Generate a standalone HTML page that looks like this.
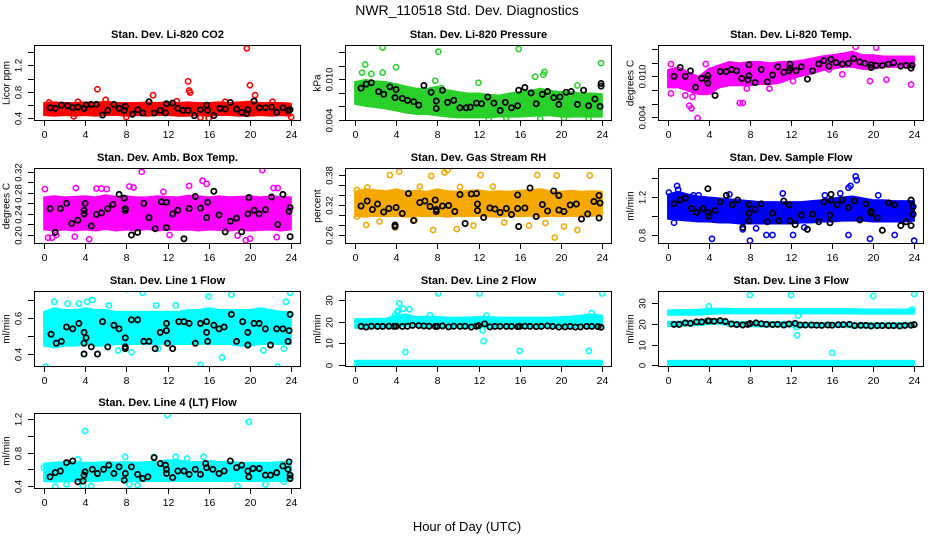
<!DOCTYPE html>
<html><head><meta charset="utf-8">
<style>
html,body{margin:0;padding:0;background:#fff;}
svg{display:block;font-family:"Liberation Sans",Arial,sans-serif;}
</style></head>
<body>
<svg id="chart" width="936" height="540" viewBox="0 0 936 540">
<rect x="0" y="0" width="936" height="540" fill="#fff"/>
<text x="467" y="15" text-anchor="middle" font-size="14">NWR_110518  Std. Dev. Diagnostics</text>
<text x="467" y="531" text-anchor="middle" font-size="13">Hour of Day (UTC)</text>
</svg>
<script>
// ---------- data ----------
const xTicks = [0,4,8,12,16,20,24];
const bandHours = [0,1,2,3,4,5,6,7,8,9,10,11,12,13,14,15,16,17,18,19,20,21,22,23,24];

const co2Lo = [0.46,0.45,0.46,0.45,0.46,0.45,0.46,0.46,0.45,0.46,0.45,0.46,0.46,0.45,0.45,0.46,0.45,0.46,0.46,0.45,0.45,0.46,0.45,0.46,0.45];
const co2Hi = [0.62,0.63,0.62,0.62,0.63,0.62,0.64,0.62,0.62,0.62,0.63,0.62,0.63,0.62,0.63,0.62,0.62,0.63,0.62,0.63,0.64,0.62,0.62,0.62,0.61];
const co2Out = [[5.2,0.84],[14,0.96],[14.1,0.82],[14.2,0.79],[19.7,1.46],[20,0.9],[10.6,0.75],[20.5,0.75],[16,0.4],[24,0.42],[0.5,0.64],[6,0.68],[3.3,0.65],[8,0.42],[2.9,0.43],[15.2,0.41],[22.2,0.65],[17.6,0.65],[12.9,0.66]];
const co2Black = [[0.6,0.56],[1.1,0.55],[1.7,0.6],[2.3,0.59],[2.8,0.56],[3.3,0.57],[3.9,0.55],[4.1,0.6],[4.6,0.61],[5.1,0.61],[5.7,0.45],[6.2,0.52],[6.8,0.61],[7.3,0.55],[7.8,0.52],[7.9,0.58],[8.6,0.46],[9.1,0.53],[9.6,0.48],[10.2,0.65],[10.7,0.48],[11.3,0.52],[11.8,0.48],[11.9,0.62],[12.5,0.63],[13,0.55],[13.5,0.52],[14,0.52],[14.6,0.44],[15.2,0.53],[15.8,0.6],[15.9,0.52],[16.5,0.44],[17.1,0.55],[17.6,0.54],[18.1,0.64],[18.7,0.54],[19.2,0.49],[19.7,0.47],[19.8,0.53],[20.4,0.66],[20.9,0.56],[21.5,0.56],[22.1,0.57],[22.6,0.49],[23.2,0.56],[23.7,0.52],[23.9,0.53]];

const presLo = [0.0065,0.0062,0.006,0.0058,0.0055,0.0052,0.005,0.005,0.0048,0.0046,0.0045,0.0045,0.0045,0.0045,0.0046,0.0046,0.0046,0.0047,0.0048,0.0048,0.0046,0.0046,0.0046,0.0046,0.0046];
const presHi = [0.0095,0.0098,0.0096,0.0095,0.0092,0.0088,0.0085,0.0085,0.0088,0.0083,0.008,0.0078,0.0078,0.0076,0.0075,0.0078,0.008,0.0082,0.0085,0.0082,0.008,0.008,0.0078,0.0078,0.0077];
const presOut = [[2.7,0.0147],[8.1,0.0141],[15.9,0.0145],[23.9,0.0124],[1,0.0122],[4,0.0118],[1.6,0.0108],[0.7,0.011],[2.7,0.011],[17.5,0.0104],[18.3,0.0107],[13,0.0041],[22.7,0.0041],[18,0.0042],[7.8,0.0098],[8.4,0.0087],[12,0.0095],[14.7,0.0043],[18.4,0.0111],[21.6,0.0091],[20.3,0.0043]];
const presBlack = [[0.6,0.0087],[1.1,0.0093],[1.6,0.0095],[2.3,0.0082],[2.8,0.0078],[3.4,0.0089],[3.9,0.0073],[4,0.0085],[4.6,0.0072],[5.1,0.0069],[5.7,0.0067],[6.2,0.0062],[6.7,0.0091],[7.4,0.0081],[7.9,0.0068],[7.9,0.0057],[8.5,0.0084],[9,0.0066],[9.6,0.0069],[10.2,0.0058],[10.8,0.0058],[11.2,0.0059],[11.8,0.0065],[12.3,0.0064],[12.9,0.0074],[13.5,0.0065],[14.1,0.0054],[14.6,0.0066],[15.2,0.0058],[15.8,0.0061],[15.9,0.0084],[16.5,0.0088],[17.1,0.008],[17.6,0.0064],[18.2,0.0078],[18.7,0.0082],[19.3,0.0073],[19.8,0.0063],[19.9,0.0074],[20.5,0.0081],[21,0.0082],[21.6,0.0063],[22.2,0.0084],[22.7,0.0061],[23.3,0.0071],[23.8,0.006],[23.9,0.009],[23.9,0.0094]];

const ltLo = [0.0085,0.0085,0.008,0.0075,0.0075,0.0085,0.0088,0.0088,0.0088,0.009,0.009,0.0092,0.0098,0.0102,0.0105,0.011,0.0112,0.0115,0.0115,0.0112,0.0112,0.0115,0.0115,0.0115,0.0115];
const ltHi = [0.0108,0.0112,0.0105,0.0098,0.011,0.0115,0.012,0.0118,0.012,0.012,0.0118,0.012,0.012,0.0122,0.0125,0.0128,0.013,0.0132,0.0135,0.013,0.013,0.0128,0.0128,0.0128,0.0128];
const ltOut = [[2.9,0.0039],[2.3,0.0053],[2.1,0.0057],[7,0.0061],[7.3,0.0061],[0.3,0.0075],[19.7,0.0093],[21.3,0.0095],[23.7,0.0088],[12.2,0.0093],[0.3,0.0118],[17,0.0103],[3.7,0.0118],[7.7,0.0082],[9.9,0.0082],[15.7,0.011],[1.7,0.0072],[2.4,0.007],[4.1,0.0078],[18.3,0.0143],[20.3,0.0142]];
const ltBlack = [[0.6,0.01],[1.2,0.0113],[1.7,0.01],[2.2,0.0108],[2.7,0.0084],[3.3,0.0097],[3.8,0.0096],[3.9,0.009],[3.9,0.0101],[4.6,0.0072],[5.1,0.0107],[5.7,0.0107],[6.2,0.011],[6.7,0.0108],[7.2,0.0097],[7.8,0.0095],[7.9,0.0101],[7.9,0.0117],[8.5,0.0091],[9.1,0.011],[9.7,0.0092],[10.2,0.0102],[10.7,0.0114],[11.3,0.0106],[11.8,0.0108],[11.9,0.0118],[11.9,0.0112],[12.5,0.0108],[13,0.0114],[13.6,0.0096],[14.1,0.0108],[14.7,0.0118],[15.2,0.0123],[15.7,0.0115],[15.9,0.0125],[16.4,0.012],[17,0.0118],[17.6,0.0119],[18.1,0.0126],[18.7,0.0121],[19.2,0.0119],[19.8,0.0117],[19.8,0.0113],[20.3,0.0116],[20.9,0.0116],[21.5,0.0118],[22,0.012],[22.7,0.0115],[23.2,0.0116],[23.7,0.0112],[23.8,0.0116]];

const boxLo = [0.212,0.21,0.212,0.21,0.212,0.21,0.213,0.21,0.212,0.21,0.213,0.21,0.212,0.211,0.212,0.21,0.212,0.211,0.21,0.212,0.21,0.211,0.212,0.21,0.212];
const boxHi = [0.27,0.272,0.27,0.271,0.272,0.27,0.274,0.271,0.272,0.27,0.27,0.272,0.271,0.27,0.273,0.272,0.27,0.272,0.27,0.271,0.272,0.27,0.272,0.271,0.27];
const boxOut = [[0.1,0.287],[3.1,0.289],[5.1,0.288],[5.6,0.288],[6.1,0.287],[8.3,0.292],[9.5,0.32],[14.1,0.293],[15.4,0.303],[21.2,0.323],[22.3,0.289],[22.7,0.289],[0.4,0.195],[0.8,0.195],[4.4,0.192],[18.8,0.199],[19.6,0.19],[20,0.193],[22.6,0.196],[3,0.197],[1.2,0.2],[12.2,0.2],[15.8,0.297],[11.6,0.282],[8.7,0.29]];
const boxBlack = [[0.6,0.25],[1.1,0.205],[1.6,0.25],[2.2,0.26],[2.7,0.222],[3.3,0.228],[3.9,0.247],[3.9,0.24],[4,0.26],[4.6,0.217],[5.1,0.239],[5.6,0.242],[6.2,0.25],[6.7,0.258],[7.3,0.277],[7.8,0.27],[7.9,0.246],[7.9,0.25],[8.5,0.2],[9.1,0.205],[9.7,0.26],[10.2,0.233],[10.8,0.212],[11.4,0.263],[11.9,0.214],[11.9,0.262],[12.5,0.24],[13,0.247],[13.6,0.193],[14.1,0.25],[14.7,0.273],[15.2,0.251],[15.8,0.233],[15.9,0.262],[16.5,0.283],[17,0.238],[17.6,0.206],[18.1,0.226],[18.7,0.232],[19.2,0.206],[19.8,0.24],[19.9,0.271],[20.4,0.247],[20.9,0.24],[21.5,0.248],[22.1,0.272],[22.7,0.22],[23.2,0.277],[23.8,0.245],[23.9,0.252],[23.9,0.197]];

const rhLo = [0.3,0.298,0.3,0.299,0.3,0.298,0.3,0.299,0.3,0.298,0.3,0.299,0.3,0.299,0.298,0.3,0.299,0.3,0.298,0.3,0.299,0.3,0.298,0.3,0.3];
const rhHi = [0.345,0.35,0.348,0.346,0.35,0.345,0.347,0.345,0.35,0.346,0.345,0.347,0.348,0.345,0.346,0.345,0.347,0.348,0.35,0.346,0.345,0.347,0.345,0.346,0.345];
const rhOut = [[0.2,0.35],[1.2,0.355],[3.4,0.38],[4.3,0.387],[8.7,0.385],[7.4,0.378],[9,0.39],[10.2,0.356],[12.2,0.38],[17.7,0.38],[19.6,0.379],[22.8,0.379],[1.1,0.28],[3.9,0.275],[7.6,0.27],[9.9,0.272],[11.5,0.279],[16.9,0.279],[19.4,0.255],[20.3,0.277],[21.6,0.27],[0.2,0.297],[2.4,0.287],[5.8,0.29],[14.5,0.285],[18.5,0.284],[6.3,0.357],[13.4,0.357]];
const rhBlack = [[0.6,0.318],[1.2,0.328],[1.7,0.311],[2.2,0.322],[2.8,0.306],[3.3,0.313],[3.9,0.28],[3.9,0.277],[4,0.315],[4.6,0.303],[5.2,0.343],[5.7,0.289],[6.3,0.325],[6.8,0.328],[7.3,0.317],[7.8,0.33],[7.9,0.307],[7.9,0.311],[8.5,0.318],[9.1,0.319],[9.7,0.307],[10.2,0.341],[10.7,0.283],[11.3,0.342],[11.8,0.343],[11.9,0.322],[11.9,0.309],[12.5,0.295],[13.1,0.314],[13.6,0.312],[14.1,0.305],[14.7,0.313],[15.2,0.301],[15.8,0.34],[15.8,0.313],[15.9,0.277],[16.5,0.314],[17,0.354],[17.6,0.297],[18.2,0.321],[18.7,0.308],[19.3,0.348],[19.8,0.339],[19.8,0.31],[20.3,0.307],[20.9,0.32],[21.5,0.322],[22,0.292],[22.6,0.302],[23.2,0.327],[23.7,0.339],[23.7,0.294],[23.8,0.324]];

const sfLo = [0.98,0.97,0.96,0.95,0.95,0.94,0.94,0.93,0.93,0.93,0.93,0.93,0.93,0.94,0.94,0.95,0.95,0.96,0.96,0.96,0.95,0.95,0.95,0.95,0.96];
const sfHi = [1.22,1.25,1.22,1.2,1.19,1.18,1.17,1.16,1.15,1.14,1.14,1.14,1.14,1.14,1.15,1.16,1.18,1.19,1.2,1.18,1.16,1.16,1.15,1.15,1.15];
const sfOut = [[0.9,1.32],[1,1.28],[18.3,1.42],[18.4,1.38],[17.8,1.32],[17.6,1.3],[11.2,1.24],[6,1.23],[2.5,1.22],[4.3,0.76],[8,0.74],[12.2,0.8],[17.6,0.8],[19.7,0.76],[24,0.74],[22.1,0.8],[0.6,0.93],[7.3,0.86],[9.6,0.8],[10.2,0.8],[20.5,1.22],[15.3,1.22],[16.8,1.24],[3,1.22],[0.1,1.25],[8.6,0.87],[13.3,0.88]];
const sfBlack = [[0.6,1.13],[1.2,1.17],[1.7,1.19],[2.3,1.08],[2.8,1.04],[3.4,1.08],[3.9,1.04],[3.9,1.29],[4,1],[4.6,1.06],[5.1,1.15],[5.7,1.22],[6.3,1.12],[6.8,1.17],[7.3,0.88],[7.9,0.95],[7.9,1.03],[7.9,1.12],[8.5,1.07],[9.1,1.13],[9.7,0.94],[10.2,1.03],[10.8,0.95],[11.3,1.16],[11.8,1.12],[11.9,0.95],[12.4,0.91],[13,1.01],[13.6,0.86],[14.1,1.02],[14.7,0.94],[15.2,1.15],[15.8,0.93],[15.8,1.01],[15.9,1.17],[15.9,1.23],[16.5,1.12],[17,1.17],[17.6,1.09],[18.2,1.16],[18.7,0.96],[19.3,1.13],[19.8,1.05],[19.8,1.03],[20.4,0.98],[20.9,0.85],[21.5,1.14],[22.1,1.12],[22.7,0.9],[23.2,0.94],[23.7,0.9],[23.7,1.17],[23.9,1.1],[23.9,1.02]];

const l1Lo = [0.45,0.44,0.45,0.45,0.46,0.45,0.45,0.46,0.46,0.46,0.46,0.46,0.46,0.46,0.46,0.46,0.46,0.46,0.46,0.45,0.45,0.46,0.46,0.46,0.46];
const l1Hi = [0.63,0.65,0.64,0.64,0.65,0.64,0.64,0.63,0.63,0.63,0.63,0.63,0.63,0.63,0.64,0.64,0.65,0.64,0.64,0.64,0.64,0.65,0.64,0.63,0.63];
const l1Out = [[0.2,0.33],[1,0.69],[2.3,0.68],[3.4,0.68],[4.2,0.69],[4.7,0.7],[8,0.76],[9.6,0.74],[12.8,0.67],[16,0.72],[18.2,0.73],[23.9,0.74],[23.5,0.69],[22.7,0.33],[20,0.31],[15.2,0.34],[17.3,0.38],[7.2,0.42],[11.1,0.43],[3.9,0.4],[8.5,0.41],[0.8,0.58],[23.3,0.43],[21.3,0.42],[6.3,0.67],[10.9,0.67]];
const l1Black = [[0.7,0.51],[1.2,0.46],[1.7,0.47],[2.2,0.55],[2.8,0.54],[3.4,0.57],[3.9,0.46],[3.9,0.52],[3.9,0.4],[4.1,0.49],[4.6,0.44],[5.2,0.4],[5.7,0.58],[6.2,0.44],[6.8,0.56],[7.3,0.54],[7.9,0.49],[7.9,0.43],[7.9,0.44],[8.5,0.59],[9.1,0.59],[9.7,0.47],[10.2,0.47],[10.8,0.43],[11.3,0.52],[11.9,0.53],[11.9,0.57],[12,0.46],[12.5,0.43],[13.1,0.58],[13.6,0.58],[14.1,0.57],[14.7,0.46],[15.2,0.57],[15.8,0.58],[15.8,0.52],[15.9,0.47],[16.5,0.56],[17,0.54],[17.5,0.55],[18.2,0.62],[18.7,0.47],[19.3,0.58],[19.8,0.52],[19.8,0.45],[20.4,0.57],[20.9,0.57],[21.5,0.54],[22,0.45],[22.6,0.54],[23.2,0.54],[23.7,0.47],[23.8,0.53],[23.9,0.62]];

const l2UpLo = [17.5,17.5,17.6,17.6,18,18.5,18,17.8,17.8,17.8,17.8,17.8,17.8,17.8,17.8,17.8,17.8,17.8,17.8,17.8,17.8,17.8,17.8,17.8,17.8];
const l2UpHi = [20.8,20.8,21,21,22.5,23,21.8,22,21.8,21.5,21.5,21.5,21.8,21.8,21.5,21.5,21.5,21.5,21.5,21.5,21.8,22,22.5,23,22.5];
const l2LowLo = [0.4,0.4,0.4,0.4,0.4,0.4,0.4,0.4,0.4,0.4,0.4,0.4,0.4,0.4,0.4,0.4,0.4,0.4,0.4,0.4,0.4,0.4,0.4,0.4,0.4];
const l2LowHi = [1.6,1.6,1.6,1.6,1.6,1.6,1.6,1.6,1.6,1.6,1.6,1.6,1.6,1.6,1.6,1.6,1.6,1.6,1.6,1.6,1.6,1.6,1.6,1.6,1.6];
const l2Out = [[4.3,28.5],[4.1,24.5],[4.2,25],[4.7,26],[5.3,25.7],[4.9,6],[8.1,33],[12.1,33],[12.4,16],[12.5,11],[16,6.5],[20,33.5],[22.7,6.5],[24,33],[23,24],[7.3,23],[12.8,22.7],[3.9,23]];
const l2Black = [[0.6,17.8],[1.1,17.5],[1.6,17.9],[2.2,17.8],[2.7,17.8],[3.3,17.9],[3.8,17.8],[4,17.9],[4.6,17.8],[5.1,17.9],[5.6,18.3],[6.2,18.2],[6.7,18],[7.2,17.9],[7.8,17.8],[8,17.8],[8.5,18],[9.1,17.6],[9.6,17.9],[10.2,17.8],[10.7,17.9],[11.3,17.5],[11.8,17.9],[12,18.2],[12.6,19],[13.1,17.6],[13.6,17.8],[14.1,17.8],[14.7,17.8],[15.2,17.8],[15.8,17.7],[16,17.8],[16.5,17.9],[17,17.8],[17.6,17.7],[18.1,17.8],[18.7,18],[19.2,17.8],[19.8,17.5],[20.4,17.6],[20.9,17.8],[21.4,17.5],[21.9,17.6],[22.5,17.8],[23,17.8],[23.6,17.7],[23.9,17.4]];

const l3UpLo = [24.8,24.8,24.8,24.8,25.2,25.5,25.5,25.5,25.5,25.5,25.5,25.5,25.5,25.5,25.5,25.5,25.5,25.5,25.5,25.3,25.3,25.3,25.3,25.3,25.3];
const l3UpHi = [26.2,26.3,26.3,26.5,27,27,27,26.8,26.8,26.8,26.8,26.8,26.8,26.8,26.8,26.8,26.8,26.8,26.8,26.6,26.6,26.6,26.6,26.6,26.8];
const l3MidLo = [19.3,19.3,19.6,19.8,20.3,20.5,19.5,19.1,19.3,19.1,19.1,19.1,19.1,18.9,18.9,18.9,18.9,18.9,18.7,18.7,18.7,18.7,18.7,18.8,18.9];
const l3MidHi = [20.7,20.7,21.2,21.5,22,21.9,20.9,20.5,20.7,20.5,20.5,20.5,20.7,20.2,20.2,20.2,20.2,20.2,20,20,20,20,20,20.1,20.3];
const l3LowLo = [0.4,0.4,0.4,0.4,0.4,0.4,0.4,0.4,0.4,0.4,0.4,0.4,0.4,0.4,0.4,0.4,0.4,0.4,0.4,0.4,0.4,0.4,0.4,0.4,0.4];
const l3LowHi = [1.8,1.8,1.8,1.8,1.8,1.8,1.8,1.8,1.8,1.8,1.8,1.8,1.8,1.8,1.8,1.8,1.8,1.8,1.8,1.8,1.8,1.8,1.8,1.8,1.8];
const l3Out = [[4,28.5],[8,34],[12,34],[20,33.5],[24,34.5],[12.6,14.5],[12.5,18.5],[12.7,24],[16,6],[23.8,27]];
const l3Black = [[0.6,19.8],[1.1,19.8],[1.7,20.5],[2.2,20.3],[2.8,21],[3.3,21],[3.9,21.5],[4,21.5],[4.5,21.3],[5.1,21.6],[5.6,21.2],[6.2,20],[6.7,19.7],[7.3,19.5],[7.8,19.8],[8,20.2],[8.6,20.5],[9.1,20.1],[9.6,19.8],[10.2,19.7],[10.7,19.8],[11.3,19.5],[11.8,20],[12.4,20.3],[12.9,19.5],[13.4,19.5],[14,19.5],[14.5,19.4],[15,19.3],[15.6,19.5],[16,19.4],[16.6,19.6],[17.1,19.7],[17.7,19.8],[18.2,19.2],[18.8,19.3],[19.3,19.3],[19.8,19],[20.4,19.2],[20.9,19.2],[21.5,19.2],[22,19.2],[22.6,19],[23.1,19.3],[23.7,19.4],[24,19.7]];

const l4Lo = [0.47,0.46,0.47,0.47,0.47,0.47,0.48,0.48,0.47,0.47,0.47,0.47,0.47,0.47,0.47,0.47,0.47,0.47,0.47,0.47,0.47,0.47,0.47,0.47,0.47];
const l4Hi = [0.66,0.67,0.68,0.68,0.67,0.67,0.68,0.67,0.68,0.67,0.68,0.68,0.7,0.7,0.68,0.68,0.69,0.68,0.68,0.67,0.67,0.67,0.67,0.68,0.68];
const l4Out = [[4,1.06],[12,1.25],[19.9,1.17],[1.1,0.39],[2.2,0.42],[3.8,0.4],[4.6,0.4],[9.1,0.41],[18.8,0.4],[21.5,0.42],[23.3,0.45],[10.7,0.75],[12.8,0.75],[15.5,0.75],[7.9,0.75],[3.3,0.72],[0,0.62],[8.3,0.42],[13.9,0.73]];
const l4Black = [[0.6,0.51],[1.1,0.56],[1.6,0.58],[2.2,0.68],[2.8,0.7],[3.3,0.45],[3.8,0.46],[3.9,0.53],[4,0.57],[4.7,0.6],[5.2,0.55],[5.8,0.6],[6.3,0.65],[6.8,0.55],[7.3,0.63],[7.8,0.47],[7.9,0.55],[8.5,0.63],[9.1,0.54],[9.6,0.49],[10.1,0.51],[10.7,0.74],[11.3,0.67],[11.8,0.65],[11.9,0.6],[11.9,0.55],[12.5,0.5],[13,0.58],[13.6,0.58],[14.1,0.54],[14.7,0.6],[15.2,0.54],[15.7,0.67],[15.8,0.62],[16.4,0.6],[17,0.55],[17.5,0.58],[18.1,0.7],[18.7,0.62],[19.2,0.65],[19.8,0.58],[19.9,0.51],[20.3,0.61],[20.9,0.61],[21.5,0.53],[22,0.53],[22.6,0.56],[23.2,0.64],[23.7,0.6],[23.8,0.69],[23.9,0.49],[23.9,0.53]];

const co2Ticks=[0.4,0.6,0.8,1.0,1.2,1.4], co2Labels=["0.4","","0.8","","1.2",""];
const presTicks=[0.004,0.006,0.008,0.010,0.012,0.014], presLabels=["0.004","","","0.010","",""];
const ltTicks=[0.004,0.006,0.008,0.010,0.012,0.014], ltLabels=["0.004","","","0.010","",""];
const boxTicks=[0.20,0.22,0.24,0.26,0.28,0.30,0.32], boxLabels=["0.20","","0.24","","0.28","","0.32"];
const rhTicks=[0.26,0.28,0.30,0.32,0.34,0.36,0.38], rhLabels=["0.26","","","0.32","","","0.38"];
const sfTicks=[0.8,1.0,1.2,1.4], sfLabels=["0.8","","1.2",""];
const l1Ticks=[0.4,0.5,0.6,0.7], l1Labels=["0.4","","0.6",""];
const l2Ticks=[0,10,20,30], l2Labels=["0","10","20","30"];
const l3Ticks=[0,10,20,30], l3Labels=["0","10","20","30"];
const l4Ticks=[0.4,0.6,0.8,1.0,1.2], l4Labels=["0.4","","0.8","","1.2"];

// ---------- layout ----------
const NS='http://www.w3.org/2000/svg';
const svg=document.getElementById('chart');
const panels=[
 {name:'co2',title:'Stan. Dev. Li-820 CO2',ylab:'Licor ppm',L:34,T:45,W:267,ylim:[0.359,1.51],ticks:co2Ticks,labels:co2Labels,col:'#ff0000',bands:[[co2Lo,co2Hi]],out:co2Out,blk:co2Black},
 {name:'pressure',title:'Stan. Dev. Li-820 Pressure',ylab:'kPa',L:345,T:45,W:267,ylim:[0.00385,0.01508],ticks:presTicks,labels:presLabels,col:'#2ad02a',bands:[[presLo,presHi]],out:presOut,blk:presBlack},
 {name:'licor-temp',title:'Stan. Dev. Li-820 Temp.',ylab:'degrees C',L:658,T:45,W:266,ylim:[0.00346,0.01459],ticks:ltTicks,labels:ltLabels,col:'#ff00ff',bands:[[ltLo,ltHi]],out:ltOut,blk:ltBlack},
 {name:'amb-box-temp',title:'Stan. Dev. Amb. Box Temp.',ylab:'degrees C',L:34,T:168,W:267,ylim:[0.183,0.327],ticks:boxTicks,labels:boxLabels,col:'#ff00ff',bands:[[boxLo,boxHi]],out:boxOut,blk:boxBlack},
 {name:'gas-stream-rh',title:'Stan. Dev. Gas Stream RH',ylab:'percent',L:345,T:168,W:267,ylim:[0.242,0.394],ticks:rhTicks,labels:rhLabels,col:'#f5a800',bands:[[rhLo,rhHi]],out:rhOut,blk:rhBlack},
 {name:'sample-flow',title:'Stan. Dev. Sample Flow',ylab:'ml/min',L:658,T:168,W:266,ylim:[0.705,1.509],ticks:sfTicks,labels:sfLabels,col:'#0000ff',bands:[[sfLo,sfHi]],out:sfOut,blk:sfBlack},
 {name:'line1-flow',title:'Stan. Dev. Line 1 Flow',ylab:'ml/min',L:34,T:291,W:267,ylim:[0.328,0.75],ticks:l1Ticks,labels:l1Labels,col:'#00ffff',bands:[[l1Lo,l1Hi]],out:l1Out,blk:l1Black},
 {name:'line2-flow',title:'Stan. Dev. Line 2 Flow',ylab:'ml/min',L:345,T:291,W:267,ylim:[-0.92,34.15],ticks:l2Ticks,labels:l2Labels,col:'#00ffff',bands:[[l2UpLo,l2UpHi],[l2LowLo,l2LowHi]],out:l2Out,blk:l2Black},
 {name:'line3-flow',title:'Stan. Dev. Line 3 Flow',ylab:'ml/min',L:658,T:291,W:266,ylim:[-0.82,35.95],ticks:l3Ticks,labels:l3Labels,col:'#00ffff',bands:[[l3UpLo,l3UpHi],[l3MidLo,l3MidHi],[l3LowLo,l3LowHi]],out:l3Out,blk:l3Black},
 {name:'line4-flow',title:'Stan. Dev. Line 4 (LT) Flow',ylab:'ml/min',L:34,T:413,W:267,ylim:[0.364,1.276],ticks:l4Ticks,labels:l4Labels,col:'#00ffff',bands:[[l4Lo,l4Hi]],out:l4Out,blk:l4Black}
];
const H=76;
function mk(tag,attrs,parent){const e=document.createElementNS(NS,tag);for(const k in attrs)e.setAttribute(k,attrs[k]);(parent||svg).appendChild(e);return e;}

panels.forEach(p=>{
  const g=mk('g',{});
  
  
  const x0=p.L+p.W*0.037, x1=p.L+p.W*(1-0.037);
  const xs=h=>x0+(x1-x0)*h/24;
  const ys=v=>p.T+H-(v-p.ylim[0])/(p.ylim[1]-p.ylim[0])*H;
  const clip='clip-'+p.name;
  const cp=mk('clipPath',{id:clip},g);mk('rect',{x:p.L,y:p.T,width:p.W,height:H},cp);
  const plot=mk('g',{'clip-path':'url(#'+clip+')'},g);
  p.bands.forEach(b=>{
    const lo=b[0],hi=b[1];
    let d='';
    bandHours.forEach((h,i)=>{d+=(i?'L':'M')+xs(h).toFixed(1)+','+(ys(hi[i])-1).toFixed(1);});
    for(let i=bandHours.length-1;i>=0;i--)d+='L'+xs(bandHours[i]).toFixed(1)+','+(ys(lo[i])+1).toFixed(1);
    const band=mk('path',{d:d+'Z',fill:p.col,stroke:p.col,'stroke-width':1.5,'stroke-linejoin':'round'},plot);
    
    
  });
  p.out.forEach(pt=>{
    const c=mk('circle',{cx:xs(pt[0]),cy:ys(pt[1]),r:2.6,fill:'none',stroke:p.col,'stroke-width':1.6},plot);
    
    
  });
  p.blk.forEach(pt=>{
    const c=mk('circle',{cx:xs(pt[0]),cy:ys(pt[1]),r:2.6,fill:'none',stroke:'#000','stroke-width':1.8},plot);
    
    
  });
  const box=mk('rect',{x:p.L+0.5,y:p.T+0.5,width:p.W-1,height:H-1,fill:'none',stroke:'#000','stroke-width':1},g);
  
  
  xTicks.forEach(t=>{
    const x=Math.round(xs(t))+0.5;
    mk('line',{x1:x,y1:p.T+H,x2:x,y2:p.T+H+5,stroke:'#000'},g);
    const tl=mk('text',{x:x,y:p.T+H+17,'text-anchor':'middle','font-size':10.5},g);
    tl.textContent=t;
    
    
  });
  p.ticks.forEach((t,i)=>{
    const y=Math.round(ys(t))+0.5;
    mk('line',{x1:p.L-6,y1:y,x2:p.L,y2:y,stroke:'#000'},g);
    if(p.labels[i]){
      const tl=mk('text',{x:p.L-15,y:y,'text-anchor':'middle','font-size':9.5,transform:'rotate(-90 '+(p.L-15)+' '+y+')','dominant-baseline':'central'},g);
      tl.textContent=p.labels[i];
      
      
    }
  });
  const yl=mk('text',{x:p.L-27,y:p.T+H/2,'text-anchor':'middle','font-size':10,transform:'rotate(-90 '+(p.L-27)+' '+(p.T+H/2)+')','dominant-baseline':'central'},g);
  yl.textContent=p.ylab;
  
  
  const tt=mk('text',{x:p.L+p.W/2,y:p.T-7,'text-anchor':'middle','font-size':11,'font-weight':'bold'},g);
  tt.textContent=p.title;
  
  
});
</script>
</body></html>
